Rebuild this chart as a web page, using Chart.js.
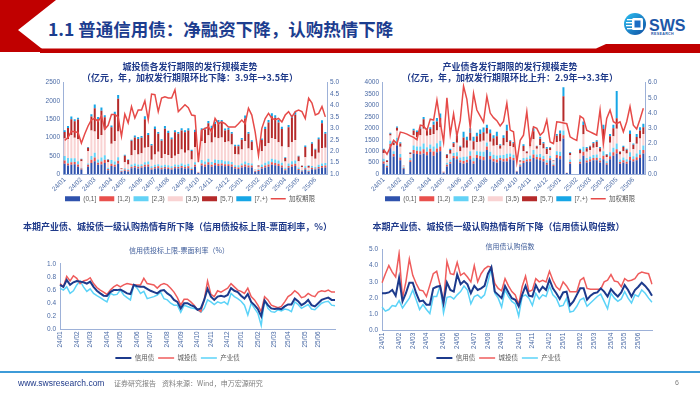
<!DOCTYPE html>
<html lang="zh-CN">
<head>
<meta charset="utf-8">
<title>普通信用债：净融资下降，认购热情下降</title>
<script src="https://cdn.jsdelivr.net/npm/chart.js@4.4.1/dist/chart.umd.min.js"></script>
<style>
  html, body { margin: 0; padding: 0; }
  body { width: 700px; height: 394px; position: relative; overflow: hidden; background: #fff;
         font-family: "Noto Sans CJK SC", "Liberation Sans", sans-serif; }
  .abs { position: absolute; }
  .page-title { left: 48px; top: 19px; font-size: 17.5px; line-height: 20px; font-weight: 700; color: #1c3d8f; white-space: nowrap; }
  .sub { font-size: 7px; line-height: 9px; color: #3f5d9a; text-align: center; white-space: nowrap; }
  .foot { top: 378px; font-size: 7px; line-height: 10px; color: #7f7f7f; white-space: nowrap; }
  canvas { position: absolute; }
</style>
</head>
<body>

<svg class="abs" style="left:0;top:0" width="700" height="60">
  <defs>
    <linearGradient id="logoGrad" x1="0" y1="0" x2="1" y2="1">
      <stop offset="0" stop-color="#2cc0f2"/>
      <stop offset="1" stop-color="#0f4ea2"/>
    </linearGradient>
  </defs>
  <polygon points="0,0 56,0 18,30 46,52 0,52" fill="#c00000"/>
  <polygon points="40,48.5 596,48.5 606,44 700,44 700,53 40,53" fill="#c00000"/>
  <circle cx="635" cy="24" r="11" fill="url(#logoGrad)"/>
  <rect x="627" y="19" width="6" height="1.3" fill="#fff"/>
  <rect x="626" y="22" width="7" height="1.3" fill="#fff"/>
  <rect x="626" y="25" width="7" height="1.3" fill="#fff"/>
  <rect x="627" y="28" width="6" height="1.3" fill="#fff"/>
  <rect x="632" y="18" width="11" height="12" rx="1.5" fill="#fff"/>
  <rect x="634.5" y="20.5" width="6" height="7" fill="#1a6cc4"/>
  <text x="649" y="30.5" font-family="Liberation Sans, Arial, sans-serif" font-weight="bold" font-size="16" fill="#1d57a8">SWS</text>
  <text x="651" y="35" font-family="Liberation Sans, Arial, sans-serif" font-weight="bold" font-size="3.6" letter-spacing="0.35" fill="#1d57a8">RESEARCH</text>
</svg>
<div class="abs page-title">1.1 普通信用债：净融资下降，认购热情下降</div>

<canvas id="cityIssue" width="330" height="152" style="left:25px;top:60px"></canvas>
<canvas id="indIssue" width="330" height="152" style="left:345px;top:60px"></canvas>
<canvas id="spreadChart" width="340" height="157" style="left:20px;top:215px"></canvas>
<canvas id="coverChart" width="330" height="157" style="left:345px;top:215px"></canvas>

<div class="abs sub" style="left:100px;top:245.5px;width:158px">信用债投标上限-票面利率（%）</div>
<div class="abs sub" style="left:440px;top:242px;width:140px">信用债认购倍数</div>

<div class="abs" style="left:0;top:371px;width:700px;height:1.5px;background:#3d9bd8"></div>
<div class="abs foot" style="left:18px;font-size:8.5px;color:#1f3a8a;font-family:'Liberation Sans',Arial,sans-serif">www.swsresearch.com</div>
<div class="abs foot" style="left:114px">证券研究报告</div>
<div class="abs foot" style="left:162px">资料来源：Wind，申万宏源研究</div>
<div class="abs foot" style="left:675px;font-family:'Liberation Sans',Arial,sans-serif">6</div>

<script>
// ---- tick labels (category index -> month label) ----
const barTicks = {0:'24/01',5:'24/02',9:'24/03',14:'24/04',18:'24/05',23:'24/06',27:'24/07',31:'24/08',36:'24/09',
  40:'24/10',44:'24/11',49:'24/12',53:'25/01',58:'25/02',62:'25/03',66:'25/04',70:'25/05',75:'25/06'};
const spreadTicks = {0:'24/01',5:'24/02',9:'24/03',14:'24/04',18:'24/05',23:'24/06',27:'24/07',32:'24/08',36:'24/09',
  41:'24/10',45:'24/11',50:'24/12',54:'25/01',59:'25/02',64:'25/03',68:'25/04',73:'25/05',77:'25/06'};
const coverTicks = {0:'24/01',5:'24/02',9:'24/03',13:'24/04',18:'24/05',22:'24/06',27:'24/07',31:'24/08',35:'24/09',
  40:'24/10',44:'24/11',49:'24/12',53:'25/01',58:'25/02',62:'25/03',67:'25/04',71:'25/05',75:'25/06'};

const bucketNames = ['(0,1]', '[1,2)', '[2,3)', '[3,5)', '[5,7)', '[7,+)'];

// ---- 城投债 weekly issuance by tenor bucket (亿元) ----
const cityA = [280,230,250,270,200,120,0,200,300,350, 250,260,300,100,220,200,280,60,90,70,
  160,180,150,170,200,200,120,150,160,130, 150,140,120,160,150,170,150,160,110,200,
  30,230,200,250,200,240,220,230,210,220, 200,150,140,180,200,180,180,60,80,150,
  180,200,250,240,220,180,100,170,200,220, 110,70,120,60,130,120,150,170,180];
const cityB = [90,60,70,60,60,30,0,50,90,100, 60,80,90,40,60,50,80,20,30,30,
  40,40,50,40,50,60,40,40,50,40, 40,40,40,40,40,50,40,50,30,50,
  10,60,60,70,50,60,60,60,60,50, 60,40,40,50,60,50,50,20,30,40,
  50,60,70,60,60,50,30,50,60,60, 30,20,40,20,40,30,40,50,50];
const cityC = [120,150,110,100,90,20,0,40,100,130, 90,110,120,30,100,90,100,15,40,30,
  60,70,60,60,70,80,50,60,60,60, 60,60,50,60,60,70,60,70,40,70,
  10,90,80,100,80,100,100,90,80,80, 70,50,60,60,80,70,60,10,20,70,
  80,90,100,100,90,80,40,70,90,90, 40,20,50,20,50,40,60,70,70];
const cityD = [480,520,640,560,600,180,0,330,700,580, 560,620,700,150,450,560,700,50,160,130,
  250,360,270,300,400,390,180,280,340,210, 300,280,230,240,300,380,330,360,220,420,
  10,520,500,640,530,600,600,620,520,540, 480,300,290,380,560,400,360,40,70,360,
  450,500,560,560,500,440,170,440,520,560, 170,80,250,70,260,230,330,420,420];
const cityE = [180,300,430,450,540,55,0,100,380,640, 540,660,340,70,450,720,900,20,180,120,
  400,350,430,420,780,340,390,700,490,470, 690,600,510,640,550,520,560,550,230,410,
  0,300,370,330,400,370,430,410,320,320, 290,220,230,270,620,400,230,10,30,310,
  470,560,600,580,540,480,100,550,660,690, 130,35,280,50,350,240,370,680,380];
const cityF = [45,50,70,60,50,10,0,20,65,100, 60,90,60,15,45,80,100,0,25,15,
  30,50,50,50,80,50,40,70,50,40, 70,60,50,60,50,60,60,60,30,60,
  0,50,55,60,60,60,65,65,55,55, 50,40,40,45,80,50,40,0,10,40,
  60,65,80,70,65,60,20,60,80,80, 20,5,40,10,40,30,50,80,50];
const cityTenor = [2.47,2.60,2.87,2.85,2.82,2.35,2.75,3.10,3.37,3.43, 3.30,3.53,2.96,3.13,3.60,3.60,3.50,2.65,3.62,3.24,
  3.95,3.45,3.80,3.80,4.20,3.37,4.50,4.47,3.73,4.32, 4.38,4.33,4.33,4.69,3.73,3.88,4.03,3.90,3.58,3.55,
  1.52,2.92,2.99,3.06,2.84,3.43,3.20,3.28,3.20,3.06, 3.06,3.06,3.20,3.36,3.20,3.88,3.58,2.84,1.81,3.00,
  3.43,3.65,3.43,3.38,3.43,3.28,3.58,3.73,3.50,3.73, 3.80,3.73,3.43,4.32,4.10,3.58,3.65,3.95,3.50];

// ---- 产业债 weekly issuance by tenor bucket (亿元) ----
const indA = [450,300,1190,770,1260,600,230,0,520,900, 880,850,900,820,960,800,950,1000,60,330,
  450,700,650,500,450,500,650,450,700,650, 600,1050,650,550,500,600,550,550,650,600,
  100,330,480,550,550,700,650,600,550,400, 600,350,700,650,1550,40,450,0,0,450,
  800,500,550,600,600,500,650,400,650,800, 900,450,500,450,600,550,600,700,900];
const indB = [100,50,120,100,150,120,30,0,80,150, 140,150,180,150,150,180,170,200,20,70,
  80,90,130,100,120,120,150,110,130,140, 150,150,140,120,130,100,120,140,110,100,
  20,50,100,80,110,150,90,120,110,90, 90,50,130,140,150,10,80,0,0,90,
  170,90,100,100,110,90,150,70,130,150, 180,80,100,90,150,100,130,150,150];
const indC = [120,60,150,130,180,150,30,0,100,200, 180,200,250,200,180,220,230,250,10,90,
  110,130,170,120,180,150,200,150,170,200, 220,180,180,170,180,120,160,200,140,140,
  10,60,120,90,150,200,110,150,140,110, 110,60,170,180,200,0,100,0,0,110,
  220,110,120,130,140,110,200,90,170,200, 250,100,120,110,200,130,170,200,200];
const indD = [250,120,220,260,300,320,50,0,170,450, 420,500,650,500,420,550,550,600,30,200,
  250,260,420,280,400,380,450,350,400,420, 480,380,440,400,460,280,420,500,330,330,
  20,100,300,180,400,470,250,400,320,280, 250,100,400,450,400,10,200,0,0,250,
  550,270,280,320,330,270,550,180,420,500, 650,220,280,250,450,300,420,500,500];
const indE = [130,60,80,100,130,150,20,0,60,200, 220,280,420,250,260,400,400,400,10,150,
  160,170,300,190,450,330,350,370,250,340, 380,250,370,330,380,150,330,500,200,180,
  0,50,230,80,260,350,110,270,220,230, 100,30,270,350,1100,0,90,0,0,150,
  400,160,150,200,230,160,420,100,280,350, 460,120,180,160,350,200,300,350,300];
const indF = [50,20,40,30,60,50,0,0,20,80, 60,70,100,80,80,150,150,200,0,30,
  50,50,130,50,250,150,200,200,150,200, 200,140,170,130,200,50,120,260,50,50,
  0,10,70,20,80,130,30,90,60,70, 30,10,80,130,400,0,30,0,0,60,
  160,50,40,50,70,50,180,30,100,150, 1190,30,60,40,150,50,130,150,150];
const indTenor = [1.62,1.30,1.77,2.21,2.00,2.75,2.70,2.62,2.50,2.40, 2.25,3.20,3.15,2.86,3.60,3.54,4.85,3.40,2.10,5.00,
  2.60,3.95,2.50,3.50,5.76,4.90,3.05,5.30,4.20,3.80, 3.40,5.10,4.00,3.70,3.50,3.15,3.45,4.65,2.88,2.77,
  0.78,2.21,2.55,4.10,2.00,3.10,3.00,2.55,2.77,3.54, 2.10,2.00,3.43,3.40,3.35,3.30,2.44,2.30,2.20,3.80,
  3.65,2.88,2.77,2.66,2.55,4.20,2.00,3.65,4.20,3.43, 3.30,3.43,2.77,3.43,4.43,3.20,2.95,3.60,4.32];

// ---- 投标上限-票面利率 (%) ----
const spreadCredit = [0.68,0.65,0.755,0.68,0.72,0.74,0.73,0.72,0.70,0.73, 0.65,0.59,0.55,0.515,0.51,0.57,0.60,0.60,0.61,0.58,
  0.55,0.54,0.68,0.66,0.65,0.65,0.62,0.59,0.57,0.55, 0.59,0.60,0.55,0.515,0.45,0.42,0.32,0.40,0.40,0.37,
  0.35,0.30,0.32,0.45,0.62,0.50,0.45,0.50,0.515,0.50, 0.525,0.63,0.59,0.57,0.515,0.47,0.54,0.42,0.37,0.31,
  0.20,0.44,0.37,0.32,0.31,0.32,0.31,0.35,0.38,0.38, 0.47,0.43,0.37,0.40,0.45,0.37,0.35,0.40,0.45,0.47,
  0.485,0.45,0.45];
const spreadCity = [0.70,0.65,0.81,0.74,0.82,0.78,0.70,0.74,0.755,0.79, 0.70,0.64,0.60,0.57,0.535,0.60,0.65,0.68,0.65,0.68,
  0.70,0.69,0.68,0.68,0.68,0.78,0.70,0.69,0.68,0.63, 0.68,0.70,0.68,0.63,0.57,0.485,0.37,0.46,0.46,0.42,
  0.37,0.30,0.27,0.45,0.74,0.535,0.50,0.59,0.57,0.60, 0.63,0.70,0.65,0.60,0.58,0.55,0.63,0.50,0.45,0.37,
  0.27,0.50,0.45,0.37,0.35,0.33,0.35,0.42,0.50,0.535, 0.59,0.55,0.485,0.50,0.55,0.515,0.50,0.57,0.59,0.58,
  0.60,0.57,0.57];
const spreadInd = [0.63,0.60,0.65,0.55,0.59,0.68,0.74,0.65,0.58,0.62, 0.55,0.515,0.485,0.45,0.42,0.55,0.525,0.535,0.60,0.525,
  0.485,0.45,0.68,0.63,0.55,0.58,0.47,0.485,0.50,0.525, 0.57,0.47,0.45,0.40,0.37,0.37,0.26,0.37,0.35,0.33,
  0.32,0.30,0.26,0.32,0.45,0.42,0.38,0.42,0.40,0.42, 0.38,0.55,0.50,0.47,0.43,0.37,0.22,0.40,0.32,0.245,
  0.06,0.45,0.32,0.27,0.26,0.30,0.28,0.31,0.30,0.27, 0.42,0.38,0.32,0.35,0.38,0.31,0.30,0.35,0.40,0.42,
  0.43,0.37,0.36];

// ---- 认购倍数 ----
const coverCredit = [2.3,2.3,2.35,2.5,2.15,3.25,1.8,2.3,2.95,2.95, 2.3,1.8,1.85,1.6,1.6,2.6,2.7,2.75,1.7,2.95,
  2.5,2.4,3.45,2.85,3.05,2.85,2.3,2.75,2.5,2.6, 2.75,3.5,3.9,2.4,2.2,2.0,2.75,2.35,2.0,1.9,
  1.5,2.2,2.75,2.15,2.1,2.8,2.4,2.7,2.5,3.15, 2.6,2.3,1.95,2.35,2.4,1.55,1.8,2.2,2.6,2.6,
  1.9,2.15,2.3,2.35,2.6,2.4,2.1,2.55,2.3,2.1, 2.35,2.8,2.5,2.1,2.5,2.7,2.95,2.75,2.5,2.15];
const coverCity = [2.95,3.5,4.0,3.6,3.3,4.75,2.0,3.0,4.4,3.4, 2.9,2.5,2.45,2.1,2.8,3.5,3.65,2.8,1.7,4.25,
  3.5,3.45,4.2,3.4,3.55,3.3,3.0,4.0,3.0,3.5, 3.8,3.95,3.9,2.9,2.6,2.45,3.2,2.75,2.4,2.2,
  1.6,2.7,3.35,2.4,2.5,3.2,3.0,3.1,3.0,3.65, 3.1,2.7,2.5,3.0,2.75,2.4,2.4,2.4,3.1,3.25,
  2.6,2.55,2.55,2.55,2.55,3.0,3.1,3.45,3.05,3.0, 2.7,3.2,3.05,3.1,3.2,3.5,3.6,3.55,3.5,2.85];
const coverInd = [1.45,1.2,1.3,1.55,1.5,1.85,1.4,1.7,2.0,2.5, 1.9,1.3,1.6,1.3,1.05,2.1,2.1,2.75,1.1,2.05,
  2.1,1.95,2.2,2.4,2.75,2.5,1.65,2.1,2.2,2.0, 2.2,3.0,3.85,2.3,2.0,1.45,2.5,2.1,1.8,1.65,
  0.9,2.1,2.2,2.0,1.55,2.3,1.95,2.2,2.1,2.75, 2.2,2.0,1.5,1.55,2.0,1.15,1.2,1.5,1.9,2.0,
  1.5,1.7,1.9,2.1,2.25,1.8,1.35,2.3,2.0,1.8, 1.95,2.4,2.0,1.7,2.2,2.1,2.5,2.3,2.0,1.75];

// ---- styling ----
const cjk = '"Noto Sans CJK SC", "Liberation Sans", sans-serif';
const titleBlue = '#1f3a8a';
const axisColor = '#9db1d8';
const bucketColors = ['#2f52ad', '#e9504d', '#62d2f6', '#f9d3d3', '#b52a2a', '#16a6e6'];
const tenorRed = '#e64a48';
const navy = '#1c3a8c', lineRed = '#ef5c5c', skyBlue = '#5bd3f8';

Chart.defaults.font.family = '"Liberation Sans", "Noto Sans CJK SC", sans-serif';
Chart.defaults.font.size = 6.5;
Chart.defaults.color = '#4a6aa5';
Chart.defaults.animation = false;

function labelsFrom(ticks, n) {
  return Array.from({length: n}, (_, i) => ticks[i] || '');
}

const noGrid = { display: false, drawTicks: false };

const legendLabels = {
  usePointStyle: true, pointStyleWidth: 15, boxHeight: 5, padding: 3,
  color: '#595959', font: {size: 6.5},
  sort: (a, b) => a.datasetIndex - b.datasetIndex
};

function issueChart(id, cfg) {
  const datasets = cfg.buckets.map((vals, k) => ({
    label: bucketNames[k], data: vals, backgroundColor: bucketColors[k],
    pointStyle: 'rect', stack: 'tenor', order: 1, yAxisID: 'y',
    barPercentage: 0.6, categoryPercentage: 1
  }));
  datasets.push({
    type: 'line', label: '加权期限', data: cfg.tenor, borderColor: tenorRed, backgroundColor: tenorRed,
    borderWidth: 1.5, pointRadius: 0, pointStyle: 'line', yAxisID: 'y1', order: 0
  });

  new Chart(document.getElementById(id), {
    type: 'bar',
    data: { labels: labelsFrom(barTicks, cfg.tenor.length), datasets },
    options: {
      responsive: false, devicePixelRatio: 1,
      layout: { padding: { top: 0, right: 0, bottom: 0, left: 0 } },
      plugins: {
        title: { display: true, text: cfg.title, color: titleBlue, padding: { top: 1, bottom: 0 },
                 font: { family: cjk, size: 9, weight: 'bold', lineHeight: 1.2 } },
        legend: { position: 'bottom', labels: legendLabels },
        tooltip: { enabled: false }
      },
      scales: {
        x: { stacked: true, grid: noGrid, border: { color: axisColor },
             ticks: { autoSkip: false, minRotation: 45, maxRotation: 45, padding: 2 },
             afterFit: s => { s.height = 18.5; } },
        y: { stacked: true, min: 0, max: cfg.leftMax, grid: noGrid, border: { color: axisColor },
             ticks: { stepSize: 500, padding: 3, callback: v => String(v) },
             afterFit: s => { s.width = cfg.leftW; } },
        y1: { position: 'right', min: cfg.rightMin, max: cfg.rightMax, grid: noGrid,
              border: { color: axisColor },
              ticks: { stepSize: cfg.rightStep, padding: 3, callback: v => v.toFixed(1) },
              afterFit: s => { s.width = cfg.rightW; } }
      }
    }
  });
}

function trendChart(id, cfg) {
  const mk = (label, data, color, w) => ({
    label, data, borderColor: color, backgroundColor: color, borderWidth: w,
    pointRadius: 0, pointStyle: 'line', tension: 0
  });
  new Chart(document.getElementById(id), {
    type: 'line',
    data: {
      labels: labelsFrom(cfg.ticks, cfg.series[0].length),
      datasets: [
        mk('信用债', cfg.series[0], navy, 2),
        mk('城投债', cfg.series[1], lineRed, 1.5),
        mk('产业债', cfg.series[2], skyBlue, 1.5)
      ]
    },
    options: {
      responsive: false, devicePixelRatio: 1,
      layout: { padding: { top: 0, right: cfg.rightPad, bottom: 0.75, left: 0 } },
      plugins: {
        title: { display: true, text: cfg.title, color: titleBlue,
                 padding: { top: 6.3, bottom: cfg.titleGap },
                 font: { family: cjk, size: 9, weight: 'bold', lineHeight: 1.2 } },
        legend: { position: 'bottom', labels: Object.assign({}, legendLabels, { pointStyleWidth: 16, padding: 4 }) },
        tooltip: { enabled: false }
      },
      scales: {
        x: { offset: false, grid: noGrid, border: { color: axisColor },
             ticks: { autoSkip: false, minRotation: 90, maxRotation: 90, padding: 2 },
             afterFit: s => { s.height = cfg.xHeight; } },
        y: { min: 0, max: cfg.max, grid: noGrid, border: { color: axisColor },
             ticks: { stepSize: cfg.step, padding: 4, callback: v => v.toFixed(1) },
             afterFit: s => { s.width = cfg.leftW; } }
      }
    }
  });
}

issueChart('cityIssue', {
  title: ['城投债各发行期限的发行规模走势', '（亿元，年，加权发行期限环比下降：3.9年→3.5年）'],
  buckets: [cityA, cityB, cityC, cityD, cityE, cityF], tenor: cityTenor,
  leftMax: 2500, rightMin: 1, rightMax: 5, rightStep: 0.5, leftW: 38, rightW: 28
});

issueChart('indIssue', {
  title: ['产业债各发行期限的发行规模走势', '（亿元，年，加权发行期限环比上升：2.9年→3.3年）'],
  buckets: [indA, indB, indC, indD, indE, indF], tenor: indTenor,
  leftMax: 4000, rightMin: 0, rightMax: 6, rightStep: 1, leftW: 37, rightW: 30
});

trendChart('spreadChart', {
  title: '本期产业债、城投债一级认购热情有所下降（信用债投标上限-票面利率，%）',
  series: [spreadCredit, spreadCity, spreadInd], ticks: spreadTicks,
  max: 1, step: 0.2, leftW: 40, rightPad: 25, titleGap: 31.9, xHeight: 21.45
});

trendChart('coverChart', {
  title: '本期产业债、城投债一级认购热情有所下降（信用债认购倍数）',
  series: [coverCredit, coverCity, coverInd], ticks: coverTicks,
  max: 5, step: 1, leftW: 37, rightPad: 23, titleGap: 17.2, xHeight: 20.05
});
</script>
</body>
</html>
